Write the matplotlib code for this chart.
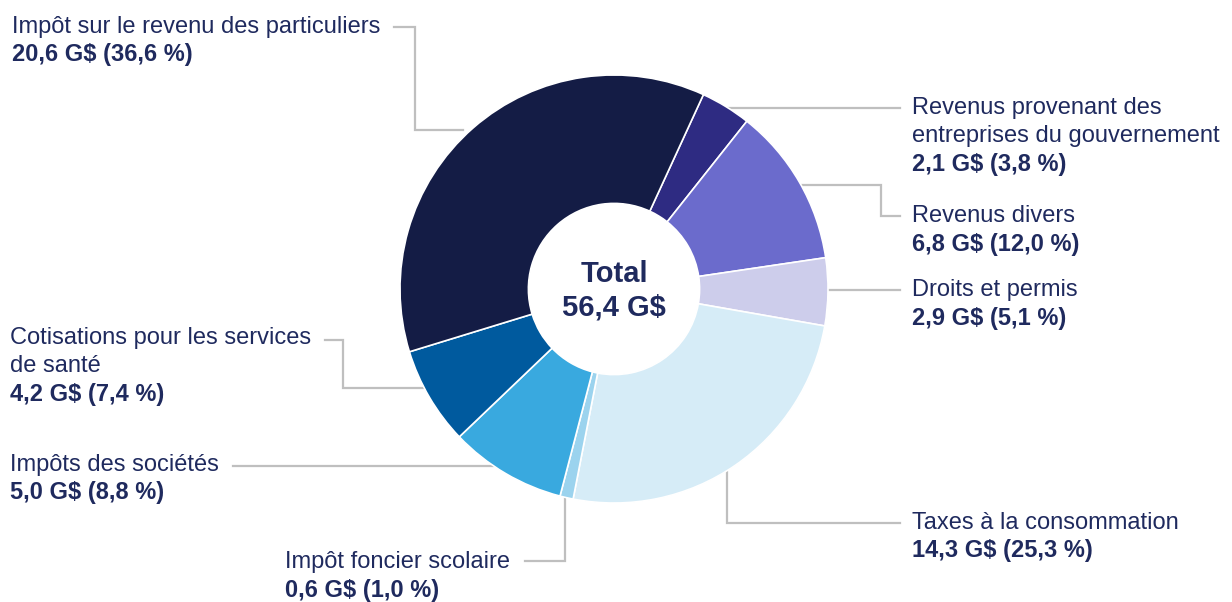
import matplotlib.pyplot as plt

W, H = 1232, 602

# data (clockwise from the top right)
names = ["Revenus provenant des\nentreprises du gouvernement", "Revenus divers", "Droits et permis",
         "Taxes à la consommation", "Impôt foncier scolaire", "Impôts des sociétés",
         "Cotisations pour les services\nde santé", "Impôt sur le revenu des particuliers"]
amounts = [2.1, 6.8, 2.9, 14.3, 0.6, 5.0, 4.2, 20.6]
shares = [3.8, 12.0, 5.1, 25.3, 1.0, 8.8, 7.4, 36.6]
total = 56.4
colors = ["#2e2b82", "#6b6bcc", "#cdcdeb", "#d6ecf7", "#9bd3ee", "#39a9df", "#005a9e", "#141c45"]

# layout in pixels (x, first line centre y) and leader paths
label_pos = [(912, 108), (912, 216), (912, 290), (912, 523), (285, 562), (10, 465), (10, 338), (12, 27)]
leaders = [
    [(727, 108), (900, 108)],
    [(802, 185), (881, 185), (881, 216), (900, 216)],
    [(828, 290), (900, 290)],
    [(727, 472), (727, 523), (900, 523)],
    [(565, 496), (565, 561), (525, 561)],
    [(493, 466), (233, 466)],
    [(423, 388), (343, 388), (343, 340), (325, 340)],
    [(463, 130), (415, 130), (415, 27), (394, 27)],
]
center = (614, 289)
radius = 214
step = 28

text_col = "#1f2a5e"
line_col = "#bfbfbf"

plt.rcParams['font.family'] = ['Liberation Sans', 'DejaVu Sans']


def fr(v):
    return f"{v:.1f}".replace('.', ',')


def py(y):
    return H - y


fig = plt.figure(figsize=(W / 100, H / 100), dpi=100)
ax = fig.add_axes([0, 0, 1, 1])
ax.set_xlim(0, W)
ax.set_ylim(0, H)
ax.set_aspect('equal')
ax.axis('off')

for path in leaders:
    ax.plot([p[0] for p in path], [py(p[1]) for p in path], color=line_col, lw=1.6, zorder=1,
            solid_joinstyle='miter')

ax.pie(shares, colors=colors, startangle=65.3, counterclock=False,
       center=(center[0], py(center[1])), radius=radius,
       wedgeprops=dict(width=radius * 0.6, edgecolor='white', linewidth=1.2, zorder=2))
ax.set_xlim(0, W)
ax.set_ylim(0, H)

for name, amt, sh, (x, y) in zip(names, amounts, shares, label_pos):
    lines = name.split('\n')
    for i, ln in enumerate(lines):
        ax.text(x, py(y + i * step), ln, fontsize=17, color=text_col, ha='left', va='center')
    ax.text(x, py(y + len(lines) * step), f"{fr(amt)} G$ ({fr(sh)} %)", fontsize=17,
            fontweight='bold', color=text_col, ha='left', va='center')

ax.text(center[0], py(274), "Total", fontsize=21, fontweight='bold', color=text_col,
        ha='center', va='center')
ax.text(center[0], py(308), f"{fr(total)} G$", fontsize=21, fontweight='bold', color=text_col,
        ha='center', va='center')

fig.savefig('out.png', dpi=100)
